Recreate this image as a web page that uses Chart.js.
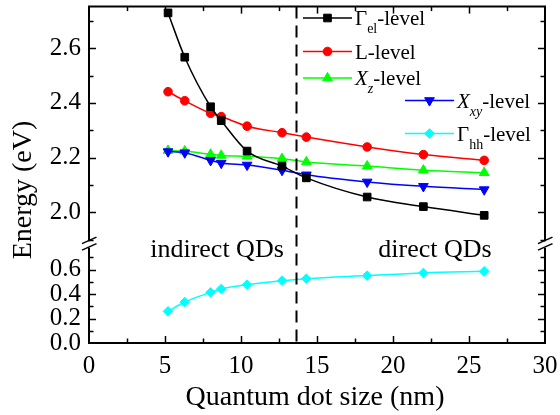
<!DOCTYPE html>
<html>
<head>
<meta charset="utf-8">
<script src="https://cdn.jsdelivr.net/npm/chart.js@4.4.0/dist/chart.umd.min.js"></script>
<style>
  html, body { margin: 0; padding: 0; background: #fff; }
  #wrap { width: 560px; height: 415px; }
</style>
</head>
<body>
<div id="wrap"><canvas id="energyChart" width="560" height="415"></canvas></div>
<script>
// quantum dot size (nm) and level energies (eV)
const dotSizes = [5.2, 6.3, 8.0, 8.7, 10.4, 12.7, 14.3, 18.3, 22.0, 26.0];
const gammaElLevel = [2.729, 2.567, 2.386, 2.335, 2.224, 2.169, 2.126, 2.056, 2.021, 1.989];
const lLevel = [2.441, 2.408, 2.362, 2.350, 2.315, 2.291, 2.275, 2.239, 2.211, 2.190];
const xzLevel = [2.226, 2.224, 2.212, 2.208, 2.205, 2.196, 2.184, 2.169, 2.154, 2.145];
const xxyLevel = [2.222, 2.218, 2.190, 2.180, 2.173, 2.154, 2.137, 2.111, 2.095, 2.083];
const gammaHhLevel = [0.259, 0.335, 0.414, 0.442, 0.477, 0.510, 0.526, 0.551, 0.573, 0.586];

// boundary between indirect and direct dots
const crossoverSize = 13.6;

const xTicks = [0, 5, 10, 15, 20, 25, 30];
const upperTicks = [2.0, 2.2, 2.4, 2.6];
const lowerTicks = [0.0, 0.2, 0.4, 0.6];

const SERIF = "Liberation Serif";
Chart.defaults.font.family = SERIF;
const tickFont = { family: SERIF, size: 25 };

function series(label, data, color, style, axis, extra) {
  return Object.assign({
    label,
    data: dotSizes.map((x, i) => ({ x, y: data[i] })),
    yAxisID: axis,
    borderColor: color,
    backgroundColor: color,
    borderWidth: 1.5,
    pointStyle: style,
    pointRadius: 5,
    pointHoverRadius: 5,
    pointBackgroundColor: color,
    pointBorderColor: color,
    pointBorderWidth: 1,
    cubicInterpolationMode: "monotone",
    fill: false,
  }, extra || {});
}

const datasets = [
  series("Γel-level", gammaElLevel, "#000000", "rect", "y", { pointRadius: 5.4, order: 0 }),
  series("L-level", lLevel, "#ff0000", "circle", "y", { pointRadius: 4.3, order: 1 }),
  series("Xz-level", xzLevel, "#00ff00", "triangle", "y", { pointRadius: 5.6, order: 3 }),
  series("Xxy-level", xxyLevel, "#0000ff", "triangle", "y", { pointRadius: 5.6, pointRotation: 180, order: 2 }),
  series("Γhh-level", gammaHhLevel, "#00ffff", "rectRot", "y2", { pointRadius: 4.8, order: 4 }),
];

// legend rows: [main, subscript, italic]
const legendRows = [
  { ds: 0, parts: ["Γ", "el", false], x: 303, y: 18 },
  { ds: 1, parts: ["L", "", false], x: 303, y: 51.5 },
  { ds: 2, parts: ["X", "z", true], x: 303, y: 78 },
  { ds: 3, parts: ["X", "xy", true], x: 405, y: 100.5 },
  { ds: 4, parts: ["Γ", "hh", false], x: 405, y: 133.5 },
];

function fitY(scale) {
  scale.width = 89;
  scale.paddingTop = 0;
  scale.paddingBottom = 0;
}

function steps(from, to, step) {
  const out = [];
  for (let v = from; v <= to + 1e-9; v += step) out.push(+v.toFixed(4));
  return out;
}

function seg(ctx, x1, y1, x2, y2) {
  ctx.beginPath();
  ctx.moveTo(x1, y1);
  ctx.lineTo(x2, y2);
  ctx.stroke();
}

const framePlugin = {
  id: "frame",
  afterDatasetsDraw(chart) {
    const { ctx, chartArea: a, scales } = chart;
    const xs = scales.x, yUp = scales.y, yLo = scales.y2;
    const yb = yUp.bottom;

    ctx.save();
    ctx.strokeStyle = "#000";
    ctx.fillStyle = "#000";

    // vertical dashed divider
    ctx.lineWidth = 2;
    ctx.setLineDash([12, 7]);
    const xd = Math.round(xs.getPixelForValue(crossoverSize)) + 0.5;
    seg(ctx, xd, a.top, xd, a.bottom);
    ctx.setLineDash([]);

    // frame with the broken side axes
    ctx.lineWidth = 2;
    seg(ctx, a.left - 1, a.top, a.right + 1, a.top);
    seg(ctx, a.left - 1, a.bottom, a.right + 1, a.bottom);
    [a.left, a.right].forEach(x => {
      seg(ctx, x, a.top, x, yb - 4);
      seg(ctx, x, yb + 2.5, x, a.bottom);
      ctx.lineWidth = 1.5;
      seg(ctx, x - 7, yb - 1.5, x + 7.5, yb - 8);
      seg(ctx, x - 7, yb + 5, x + 7.5, yb - 1.5);
      ctx.lineWidth = 2;
    });

    // inward tick marks
    ctx.lineWidth = 1.5;
    steps(0, 30, 2.5).forEach(v => {
      if (v === 0 || v === 30) return;
      const len = v % 5 === 0 ? 7 : 4.5;
      const x = Math.round(xs.getPixelForValue(v)) + 0.5;
      seg(ctx, x, a.bottom, x, a.bottom - len);
      seg(ctx, x, a.top, x, a.top + len);
    });
    const yMarks = [];
    steps(1.9, 2.7, 0.1).forEach(v => yMarks.push([yUp, v, Math.round(v * 10) % 2 === 0]));
    steps(0.1, 0.7, 0.1).forEach(v => yMarks.push([yLo, v, Math.round(v * 10) % 2 === 0]));
    yMarks.forEach(([s, v, major]) => {
      const y = Math.round(s.getPixelForValue(v)) + 0.5;
      const len = major ? 7 : 4.5;
      seg(ctx, a.left, y, a.left + len, y);
      seg(ctx, a.right, y, a.right - len, y);
    });

    // region labels
    ctx.font = "26px " + SERIF;
    ctx.textAlign = "center";
    ctx.textBaseline = "alphabetic";
    ctx.fillText("indirect QDs", 217, 257);
    ctx.fillText("direct QDs", 435, 257);

    // legend
    ctx.textAlign = "left";
    legendRows.forEach(row => {
      const ds = chart.data.datasets[row.ds];
      ctx.strokeStyle = ds.borderColor;
      ctx.fillStyle = ds.borderColor;
      ctx.lineWidth = 1.5;
      seg(ctx, row.x, row.y, row.x + 49, row.y);
      ctx.lineWidth = 1;
      Chart.helpers.drawPoint(ctx, {
        pointStyle: ds.pointStyle,
        radius: ds.pointRadius,
        rotation: ds.pointRotation || 0,
        borderWidth: 1,
      }, row.x + 24.5, row.y);

      const [main, sub, italic] = row.parts;
      let tx = row.x + 52;
      const by = row.y + 7;
      ctx.fillStyle = "#000";
      ctx.font = (italic ? "italic " : "") + "21px " + SERIF;
      ctx.fillText(main, tx, by);
      tx += ctx.measureText(main).width;
      if (sub) {
        ctx.font = (italic ? "italic " : "") + "14px " + SERIF;
        ctx.fillText(sub, tx, by + 8);
        tx += ctx.measureText(sub).width;
      }
      ctx.font = "21px " + SERIF;
      ctx.fillText("-level", tx, by);
    });

    // axis titles
    ctx.fillStyle = "#000";
    ctx.font = "28px " + SERIF;
    ctx.textAlign = "center";
    ctx.textBaseline = "middle";
    ctx.fillText("Quantum dot size (nm)", 315, 398);
    ctx.translate(24, 190);
    ctx.rotate(-Math.PI / 2);
    ctx.fillText("Energy (eV)", 0, 0);
    ctx.restore();
  },
};

new Chart(document.getElementById("energyChart"), {
  type: "line",
  data: { datasets },
  options: {
    responsive: false,
    animation: false,
    layout: { padding: { top: 6, right: 15, left: 0, bottom: 0 } },
    plugins: { legend: { display: false }, tooltip: { enabled: false } },
    scales: {
      x: {
        type: "linear",
        min: 0,
        max: 30,
        grid: { display: false, drawTicks: false },
        border: { display: false },
        afterBuildTicks: s => { s.ticks = xTicks.map(value => ({ value })); },
        ticks: { padding: 8, autoSkip: false, maxRotation: 0, color: "#000", font: tickFont, callback: v => String(v) },
        afterFit(s) {
          s.height = 72;
          s.paddingLeft = 0;
          s.paddingRight = 0;
        },
      },
      // lower segment listed first so it stacks beneath the upper one
      y2: {
        type: "linear",
        position: "left",
        stack: "energy",
        stackWeight: 98,
        min: 0,
        max: 0.8,
        grid: { display: false, drawTicks: false },
        border: { display: false },
        afterBuildTicks: s => { s.ticks = lowerTicks.map(value => ({ value })); },
        ticks: { padding: 8, autoSkip: false, color: "#000", font: tickFont, callback: v => v.toFixed(1) },
        afterFit: fitY,
      },
      y: {
        type: "linear",
        position: "left",
        stack: "energy",
        stackWeight: 239,
        min: 1.88,
        max: 2.752,
        grid: { display: false, drawTicks: false },
        border: { display: false },
        afterBuildTicks: s => { s.ticks = upperTicks.map(value => ({ value })); },
        ticks: { padding: 8, autoSkip: false, color: "#000", font: tickFont, callback: v => v.toFixed(1) },
        afterFit: fitY,
      },
    },
  },
  plugins: [framePlugin],
});
</script>
</body>
</html>
